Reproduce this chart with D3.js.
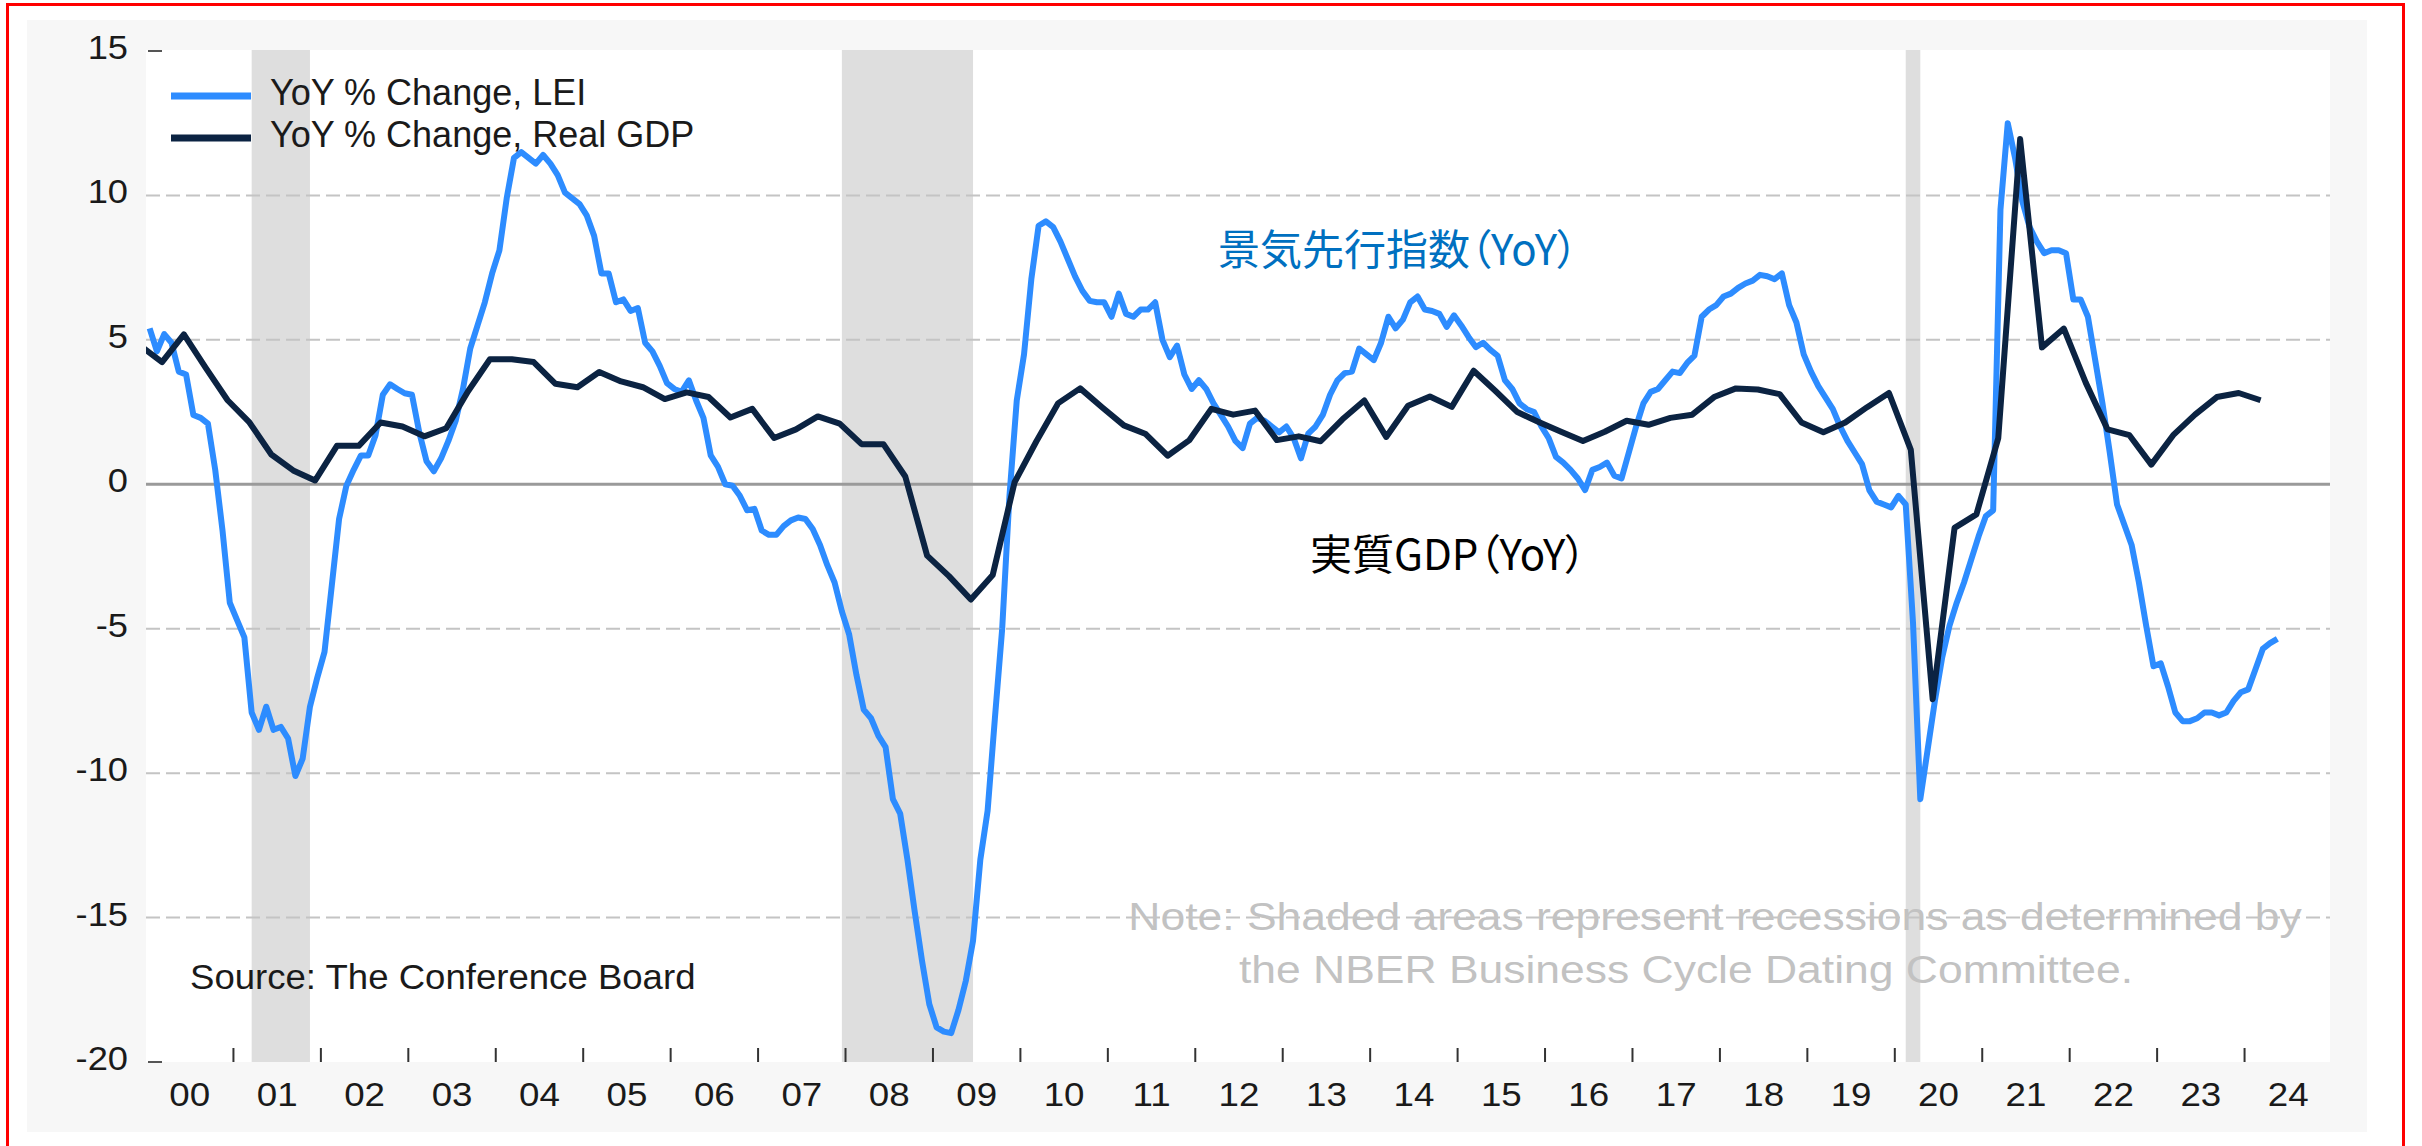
<!DOCTYPE html>
<html>
<head>
<meta charset="utf-8">
<script src="https://cdn.jsdelivr.net/npm/d3@7"></script>
<style>
  body { margin: 0; background: #fff; }
  svg { display: block; }
  text { font-family: Arial, "Liberation Sans", sans-serif; }
  .jp { font-family: "Noto Sans CJK JP", sans-serif; font-feature-settings: "palt"; }
</style>
</head>
<body>
<svg id="chart" width="2422" height="1146"></svg>
<script>
const svg = d3.select("#chart");

// LEI, YoY % change, monthly from Jan 2000
const leiStart = 2000;
const leiValues = [
  5.4, 4.6, 5.2, 4.9, 3.9, 3.8, 2.4, 2.3, 2.1, 0.5, -1.6, -4.1,          // 2000
  -4.7, -5.3, -7.9, -8.5, -7.7, -8.5, -8.4, -8.8, -10.1, -9.5, -7.7, -6.7, // 2001
  -5.8, -3.5, -1.2, -0.05, 0.5, 1.0, 1.0, 1.7, 3.1, 3.46, 3.3, 3.15,     // 2002
  3.1, 1.8, 0.8, 0.45, 0.9, 1.5, 2.2, 3.3, 4.7, 5.5, 6.3, 7.3,           // 2003
  8.1, 9.9, 11.3, 11.5, 11.3, 11.1, 11.4, 11.1, 10.7, 10.1, 9.9, 9.7,    // 2004
  9.3, 8.6, 7.3, 7.3, 6.3, 6.4, 6.0, 6.1, 4.9, 4.6, 4.1, 3.5,            // 2005
  3.3, 3.2, 3.6, 2.9, 2.3, 1.0, 0.6, 0.0, -0.05, -0.4, -0.9, -0.85,      // 2006
  -1.6, -1.75, -1.75, -1.45, -1.25, -1.15, -1.2, -1.55, -2.1, -2.8, -3.4, -4.4, // 2007
  -5.2, -6.6, -7.8, -8.1, -8.7, -9.1, -10.9, -11.4, -13.0, -14.8, -16.5, -18.0, // 2008
  -18.8, -18.95, -19.0, -18.2, -17.2, -15.8, -13.0, -11.3, -8.1, -5.0, -0.4, 2.9, // 2009
  4.5, 7.1, 8.95, 9.1, 8.9, 8.4, 7.8, 7.2, 6.7, 6.35, 6.3, 6.3,          // 2010
  5.8, 6.6, 5.9, 5.8, 6.05, 6.05, 6.3, 5.0, 4.4, 4.8, 3.8, 3.3,          // 2011
  3.6, 3.3, 2.8, 2.4, 2.0, 1.5, 1.25, 2.1, 2.3, 2.2, 2.0, 1.8,           // 2012
  2.0, 1.6, 0.9, 1.75, 2.0, 2.4, 3.1, 3.6, 3.85, 3.9, 4.7, 4.5,          // 2013
  4.3, 4.9, 5.8, 5.4, 5.7, 6.3, 6.5, 6.05, 6.0, 5.9, 5.45, 5.85,         // 2014
  5.5, 5.1, 4.75, 4.9, 4.65, 4.45, 3.6, 3.3, 2.8, 2.6, 2.5, 2.0,         // 2015
  1.6, 0.95, 0.75, 0.5, 0.2, -0.2, 0.5, 0.6, 0.75, 0.3, 0.2, 1.1,        // 2016
  2.0, 2.8, 3.2, 3.3, 3.6, 3.9, 3.85, 4.2, 4.45, 5.8, 6.05, 6.2,         // 2017
  6.5, 6.6, 6.8, 6.95, 7.05, 7.25, 7.2, 7.1, 7.3, 6.2, 5.6, 4.5,         // 2018
  3.9, 3.4, 3.0, 2.6, 2.0, 1.5, 1.1, 0.7, -0.2, -0.6, -0.7, -0.8,        // 2019
  -0.4, -0.7, -4.8, -10.9, -9.2, -7.5, -6.0, -4.9, -4.1, -3.4, -2.6, -1.8, // 2020
  -1.1, -0.9, 9.5, 12.5, 11.3, 9.8, 8.9, 8.4, 8.0, 8.1, 8.1, 8.0,        // 2021
  6.4, 6.4, 5.8, 4.3, 2.8, 1.1, -0.7, -1.4, -2.1, -3.4, -4.9, -6.3,      // 2022
  -6.2, -7.0, -7.9, -8.2, -8.2, -8.1, -7.9, -7.9, -8.0, -7.9, -7.5, -7.2, // 2023
  -7.1, -6.4, -5.7, -5.5, -5.35                                           // 2024
];

// Real GDP, YoY % change, quarterly from 1999 Q4
const gdpStart = { year: 1999, quarter: 4 };
const gdpValues = [
  4.8,
  4.23, 5.19, 4.03, 2.91,
  2.14, 1.03, 0.48, 0.13,
  1.33, 1.33, 2.14, 2.0,
  1.66, 1.94, 3.22, 4.33,
  4.33, 4.23, 3.48, 3.36,
  3.89, 3.56, 3.36, 2.95,
  3.18, 3.02, 2.31, 2.61,
  1.6, 1.9, 2.35, 2.1,
  1.39, 1.39, 0.27, -2.47,
  -3.18, -3.99, -3.14, 0.07,
  1.49, 2.81, 3.32, 2.67,
  2.04, 1.74, 0.99, 1.53,
  2.61, 2.41, 2.55, 1.53,
  1.66, 1.49, 2.25, 2.9,
  1.64, 2.72, 3.04, 2.68,
  3.93, 3.23, 2.5, 2.15,
  1.82, 1.5, 1.82, 2.2,
  2.06, 2.3, 2.41, 3.02,
  3.32, 3.28, 3.12, 2.14,
  1.8, 2.14, 2.67, 3.16,
  1.19, -7.44, -1.51, -1.04,
  1.6, 11.95, 4.74, 5.39,
  3.52, 1.9, 1.7, 0.68,
  1.7, 2.41, 3.02, 3.16,
  2.91
];

// NBER recessions: [peak year, month, trough year, month]
const recessions = [[2001, 3, 2001, 11], [2007, 12, 2009, 6], [2020, 2, 2020, 4]];

const yTicks = [15, 10, 5, 0, -5, -10, -15, -20];
const xTickLabels = ["00","01","02","03","04","05","06","07","08","09","10","11",
  "12","13","14","15","16","17","18","19","20","21","22","23","24"];

const legendLabels = ["YoY % Change, LEI", "YoY % Change, Real GDP"];
const noteLines = ["Note: Shaded areas represent recessions as determined by",
  "the NBER Business Cycle Dating Committee."];

const leiColor = "#2d8cff",
      gdpColor = "#0b2342";

const plot = { left: 146, right: 2330, top: 50, bottom: 1062 };

const x = d3.scaleLinear().domain([2000, 2025]).range([146, 2332]);
const y = d3.scaleLinear().domain([-20, 15]).range([1062, 51]);

const monthT = (yr, m) => yr + (m - 0.5) / 12;

const lei = leiValues.map((v, i) => ({ t: leiStart + (i + 0.5) / 12, v: v }));
const gdp = gdpValues.map((v, i) => {
  const q = gdpStart.quarter - 1 + i;
  return { t: gdpStart.year + Math.floor(q / 4) + ((q % 4) * 3 + 2.2) / 12, v: v };
});

// text with a slight horizontal stretch, like the original picture
function putText(g, str, px, py, size, sx, anchor, fill) {
  return g.append("text")
    .attr("transform", `translate(${px},${py}) scale(${sx},1)`)
    .attr("text-anchor", anchor)
    .attr("font-size", size)
    .attr("fill", fill)
    .text(str);
}

// frame + panel
svg.append("rect")
  .attr("x", 7.5).attr("y", 4.5).attr("width", 2396).attr("height", 1200)
  .attr("fill", "none").attr("stroke", "#ff0000").attr("stroke-width", 3);

svg.append("rect")
  .attr("x", 27).attr("y", 20).attr("width", 2340).attr("height", 1112)
  .attr("fill", "#f7f7f7");

svg.append("rect")
  .attr("x", plot.left).attr("y", plot.top)
  .attr("width", plot.right - plot.left).attr("height", plot.bottom - plot.top)
  .attr("fill", "#fff");

svg.append("clipPath").attr("id", "plotclip")
  .append("rect")
  .attr("x", plot.left).attr("y", plot.top - 10)
  .attr("width", plot.right - plot.left).attr("height", plot.bottom - plot.top + 10);

// recession bands
svg.append("g").selectAll("rect")
  .data(recessions).enter()
  .append("rect")
  .attr("x", d => x(monthT(d[0], d[1])))
  .attr("width", d => x(monthT(d[2], d[3])) - x(monthT(d[0], d[1])))
  .attr("y", plot.top)
  .attr("height", plot.bottom - plot.top)
  .attr("fill", "#dedede");

// note (grid line runs through it)
const gNote = svg.append("g");
putText(gNote, noteLines[0], 1715, 930, 39, 1.14, "middle", "#c2c2c2");
putText(gNote, noteLines[1], 1686, 983, 39, 1.14, "middle", "#c2c2c2");

// grid
svg.append("g").selectAll("line")
  .data(yTicks.filter(d => d !== 0 && d !== 15 && d !== -20)).enter()
  .append("line")
  .attr("x1", plot.left).attr("x2", plot.right)
  .attr("y1", d => y(d)).attr("y2", d => y(d))
  .attr("stroke", "#c4c4c4").attr("stroke-width", 2)
  .attr("stroke-dasharray", "14,6");

svg.append("line")
  .attr("x1", plot.left).attr("x2", plot.right)
  .attr("y1", y(0)).attr("y2", y(0))
  .attr("stroke", "#9a9a9a").attr("stroke-width", 3);

// y ticks at the ends, x ticks at year boundaries
svg.append("g").selectAll("line")
  .data([15, -20]).enter()
  .append("line")
  .attr("x1", plot.left + 2).attr("x2", plot.left + 16)
  .attr("y1", d => y(d)).attr("y2", d => y(d))
  .attr("stroke", "#555").attr("stroke-width", 2);

svg.append("g").selectAll("line")
  .data(d3.range(2001, 2025)).enter()
  .append("line")
  .attr("x1", d => x(d)).attr("x2", d => x(d))
  .attr("y1", plot.bottom - 14).attr("y2", plot.bottom)
  .attr("stroke", "#333").attr("stroke-width", 2);

// series
const line = d3.line().x(d => x(d.t)).y(d => y(d.v));
const gLines = svg.append("g").attr("clip-path", "url(#plotclip)");

gLines.append("path")
  .datum(lei)
  .attr("d", line)
  .attr("fill", "none")
  .attr("stroke", leiColor)
  .attr("stroke-width", 6)
  .attr("stroke-linejoin", "round");

gLines.append("path")
  .datum(gdp)
  .attr("d", line)
  .attr("fill", "none")
  .attr("stroke", gdpColor)
  .attr("stroke-width", 6)
  .attr("stroke-linejoin", "round");

// axis labels
const gAxis = svg.append("g");
yTicks.forEach(d => putText(gAxis, d, 128, y(d) + 8, 33, 1.1, "end", "#1a1a1a"));
xTickLabels.forEach((d, i) => putText(gAxis, d, x(2000 + i + 0.5), 1106, 34, 1.08, "middle", "#1a1a1a"));

// legend
const gLegend = svg.append("g");
[leiColor, gdpColor].forEach((c, i) => {
  const ly = 96 + i * 42;
  gLegend.append("line")
    .attr("x1", 171).attr("x2", 251)
    .attr("y1", ly).attr("y2", ly)
    .attr("stroke", c).attr("stroke-width", 7);
  putText(gLegend, legendLabels[i], 270, ly + 9, 36, 1.0, "start", "#1a1a1a");
});

// source
putText(svg, "Source: The Conference Board", 190, 989, 34.5, 1.06, "start", "#1a1a1a");

// annotations
svg.append("text").attr("class", "jp")
  .attr("x", 1218).attr("y", 265)
  .attr("font-size", 42).attr("fill", "#0070c0")
  .text("景気先行指数（YoY）");

svg.append("text").attr("class", "jp")
  .attr("x", 1310).attr("y", 570)
  .attr("font-size", 42).attr("fill", "#000")
  .text("実質GDP（YoY）");
</script>
</body>
</html>
